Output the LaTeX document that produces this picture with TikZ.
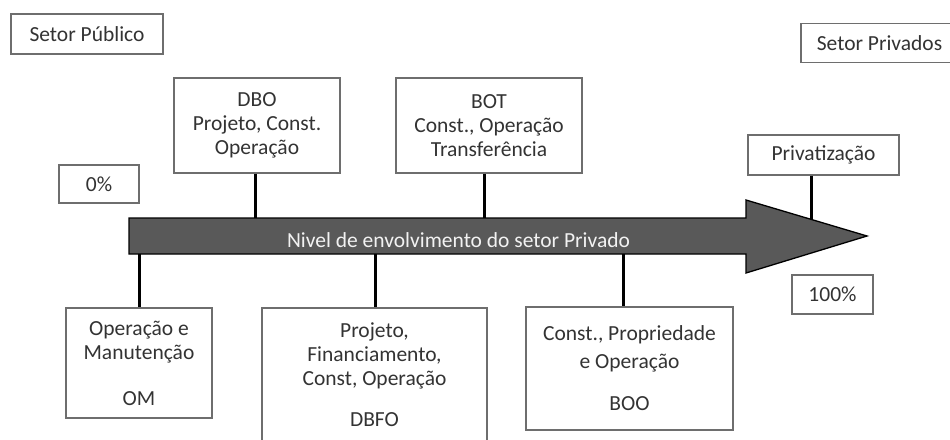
\documentclass[tikz,border=0pt]{standalone}
\usepackage{fontspec}
\setmainfont{Carlito}
\definecolor{boxgray}{HTML}{6E6E6E}
\definecolor{txtgray}{HTML}{333333}
\definecolor{arrowgray}{HTML}{595959}
\definecolor{lighttxt}{HTML}{F2F2F2}
\begin{document}
\begin{tikzpicture}[x=1pt,y=-1pt,
  box/.style={draw=boxgray, line width=1.4pt, fill=white, rectangle, inner sep=0pt,
    align=center, text=txtgray, font=\fontsize{21.5}{24}\selectfont},
  conn/.style={line width=3pt, draw=black},
  arrowbody/.style={fill=arrowgray, draw=black, line width=1.3pt, line join=miter},
  arrowlabel/.style={text=lighttxt, font=\fontsize{21.5}{24}\selectfont, inner sep=0pt}]
\useasboundingbox (0,0) rectangle (950,439);
\clip (0,0) rectangle (950,439);

% arrow
\coordinate (aTL) at (129,218);
\coordinate (aTR) at (746,218);
\coordinate (hT) at (746,200);
\coordinate (tip) at (867,236);
\coordinate (hB) at (746,273);
\coordinate (aBR) at (746,254);
\coordinate (aBL) at (129,254);
\draw[arrowbody] (aTL) -- (aTR) -- (hT) -- (tip) -- (hB) -- (aBR) -- (aBL) -- cycle;
\node[arrowlabel] (lvl) at (458.5,240) {Nivel de envolvimento do setor Privado};

% boxes
\node[box, minimum width=152pt, minimum height=40pt] (pub) at (87,34) {Setor Público};
\node[box, minimum width=157pt, minimum height=39pt] (priv) at (879.5,43) {Setor Privados};
\node[box, minimum width=166pt, minimum height=95pt] (dbo) at (257,125.5) {DBO\\Projeto, Const.\\Operação};
\node[box, minimum width=186pt, minimum height=95pt] (bot) at (489,125.5) {BOT\\Const., Operação\\Transferência};
\node[box, minimum width=80pt, minimum height=38pt] (p0) at (99,184) {0\%};
\node[box, minimum width=151pt, minimum height=40pt] (prz) at (823.5,155) {Privatização};
\node[box, minimum width=81pt, minimum height=39pt] (p100) at (832.5,294.5) {100\%};
\node[box, minimum width=146pt, minimum height=110pt] (om) at (139,363) {Operação e\\Manutenção\\[22pt]OM};
\node[box, minimum width=225pt, minimum height=134pt] (dbfo) at (374.5,375) {Projeto,\\Financiamento,\\Const, Operação\\[17pt]DBFO};
\node[box, minimum width=207pt, minimum height=123pt] (boo) at (629.5,368.5) {Const., Propriedade\\[4pt]e Operação\\[18pt]BOO};

% connectors
\coordinate (cDBO) at (255,218);
\coordinate (cBOT) at (484,218);
\coordinate (cPRZ) at (811,219);
\coordinate (cOM) at (139,254);
\coordinate (cDBFO) at (375,254);
\coordinate (cBOO) at (623,254);
\draw[conn] (dbo.south -| cDBO) -- (cDBO);
\draw[conn] (bot.south -| cBOT) -- (cBOT);
\draw[conn] (prz.south -| cPRZ) -- (cPRZ);
\draw[conn] (cOM) -- (om.north -| cOM);
\draw[conn] (cDBFO) -- (dbfo.north -| cDBFO);
\draw[conn] (cBOO) -- (boo.north -| cBOO);
\end{tikzpicture}
\end{document}
